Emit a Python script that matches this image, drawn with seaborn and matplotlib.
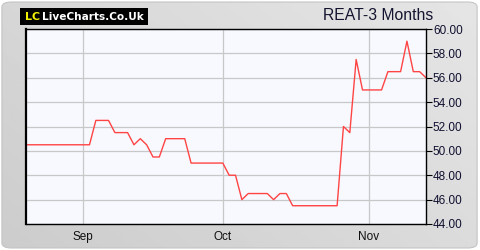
import numpy as np
import pandas as pd
import matplotlib
matplotlib.use("Agg")
import matplotlib.pyplot as plt
from matplotlib.patches import FancyBboxPatch, Rectangle
import seaborn as sns

# ---- data (business days) ----
start_date = "2025-08-19"
prices = [
    50.5, 50.5, 50.5, 50.5, 50.5, 50.5, 50.5, 50.5, 50.5, 50.5, 50.5,   # 0-10
    52.5, 52.5, 52.5,                                                   # 11-13
    51.5, 51.5, 51.5,                                                   # 14-16
    50.5, 51.0, 50.5, 49.5, 49.5,                                       # 17-21
    51.0, 51.0, 51.0, 51.0,                                             # 22-25
    49.0, 49.0, 49.0, 49.0, 49.0, 49.0,                                 # 26-31
    48.0, 48.0, 46.0,                                                   # 32-34
    46.5, 46.5, 46.5, 46.5, 46.0, 46.5, 46.5,                           # 35-41
    45.5, 45.5, 45.5, 45.5, 45.5, 45.5, 45.5, 45.5,                     # 42-49
    52.0, 51.5, 57.5,                                                   # 50-52
    55.0, 55.0, 55.0, 55.0,                                             # 53-56
    56.5, 56.5, 56.5, 59.0, 56.5, 56.5, 56.0,                           # 57-63
]
y_ticks = [44, 46, 48, 50, 52, 54, 56, 58, 60]
title = "REAT-3 Months"

dates = pd.bdate_range(start=start_date, periods=len(prices))
df = pd.DataFrame({"idx": np.arange(len(prices)), "date": dates, "price": prices})

# month ticks at first business day of each month
first_of_month = df.groupby([df.date.dt.year, df.date.dt.month])["idx"].min()
month_idx = [i for i in first_of_month.values if i > 0]
month_lbl = [df.date[i].strftime("%b") for i in month_idx]

sns.set_theme(style="white")
plt.rcParams["font.family"] = ["Liberation Sans", "DejaVu Sans"]

fig = plt.figure(figsize=(4.8, 2.5), dpi=100)
fig.patch.set_facecolor("white")

# background gradient with rounded border
bg = fig.add_axes([0, 0, 1, 1])
bg.set_axis_off()
gx, gy = np.meshgrid(np.linspace(0, 1, 200), np.linspace(0, 1, 100))
grad = 0.80 + 0.10 * (0.6 * gx + 0.4 * gy)
im = bg.imshow(grad, cmap="gray", vmin=0, vmax=1, extent=[0, 1, 0, 1],
               origin="lower", aspect="auto")
patch = FancyBboxPatch((0.004, 0.008), 0.99, 0.984,
                       boxstyle="round,pad=0,rounding_size=0.02",
                       transform=bg.transAxes, facecolor="none",
                       edgecolor="#c4c4c4", linewidth=0.8)
bg.add_patch(patch)
im.set_clip_path(patch)
bg.set_xlim(0, 1)
bg.set_ylim(0, 1)

# logo box
bg.add_patch(Rectangle((20 / 480, 1 - 25 / 250), 128 / 480, 17 / 250,
                       transform=bg.transAxes, facecolor="black",
                       edgecolor="none"))

ax = fig.add_axes([26 / 480, 1 - 224 / 250, 400 / 480, 195 / 250])
ax.set_facecolor("#f8f9ff")
sns.lineplot(data=df, x="idx", y="price", ax=ax, color="#ff4444",
             linewidth=1.0)
ax.set_xlim(0, len(prices) - 1)
ax.set_ylim(44, 60)
ax.set_yticks(y_ticks)
ax.set_yticklabels([f"{v:.2f}" for v in y_ticks])
ax.set_xticks(month_idx)
ax.set_xticklabels(month_lbl)
ax.set_xlabel("")
ax.set_ylabel("")
ax.yaxis.tick_right()
ax.grid(True, color="#c8c8c8", linewidth=0.9)
ax.tick_params(axis="y", which="both", right=True, left=False, length=4,
               width=0.8, color="black", labelsize=8.5, pad=1,
               labelcolor="#101030")
ax.tick_params(axis="x", length=0, labelsize=8.5, pad=5, labelcolor="#101010")
for s in ax.spines.values():
    s.set_visible(True)
    s.set_color("black")
    s.set_linewidth(1.0)
ax.spines["left"].set_linewidth(1.6)

# logo text
fig.text(25 / 480, 1 - 16.5 / 250, "LC", color="#f0f000", fontsize=8.0,
         fontweight="bold", family="DejaVu Sans", va="center", ha="left")
fig.text(42 / 480, 1 - 16.5 / 250, "LiveCharts.Co.Uk", color="white",
         fontsize=7.6, fontweight="bold", family="DejaVu Sans", va="center",
         ha="left")

fig.text(433 / 480, 1 - 15 / 250, title, color="#141430", fontsize=11.3,
         ha="right", va="center")

fig.savefig("out.png", dpi=100)
